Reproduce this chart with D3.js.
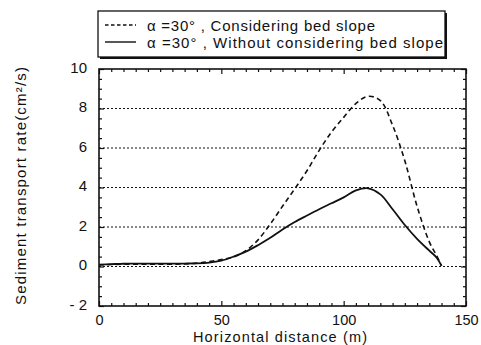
<!DOCTYPE html>
<html>
<head>
<meta charset="utf-8">
<script src="https://cdn.jsdelivr.net/npm/d3@7"></script>
<style>
  html, body { margin: 0; padding: 0; background: #fff; }
  svg { display: block; }
  text { font-family: "Liberation Sans", Arial, sans-serif; fill: #111; }
</style>
</head>
<body>
<svg id="chart" width="481" height="345"></svg>
<script>
// Horizontal distance (m) along the profile
const distance = [0, 5, 10, 15, 20, 25, 30, 35, 40, 45, 50, 55, 60, 65, 70, 75, 80, 85, 90, 95, 100, 105, 110, 115, 120, 125, 130, 135, 138, 140];
// Sediment transport rate (cm²/s), alpha = 30°, considering bed slope
const withSlope = [0.08, 0.1, 0.12, 0.12, 0.12, 0.12, 0.12, 0.13, 0.17, 0.25, 0.35, 0.48, 0.8, 1.35, 2.15, 3.05, 3.93, 4.85, 5.88, 6.8, 7.55, 8.25, 8.62, 8.4, 7.15, 5.35, 3.05, 1.25, 0.55, 0.03];
// Sediment transport rate (cm²/s), alpha = 30°, without considering bed slope
const withoutSlope = [0.1, 0.12, 0.14, 0.15, 0.15, 0.15, 0.15, 0.15, 0.16, 0.2, 0.3, 0.5, 0.75, 1.08, 1.45, 1.87, 2.25, 2.58, 2.9, 3.2, 3.5, 3.85, 3.96, 3.65, 2.9, 2.1, 1.4, 0.8, 0.45, 0.03];

const xTickLabels = [0, 50, 100, 150];
const yTickLabels = [-2, 0, 2, 4, 6, 8, 10];
const gridValues = [0, 2, 4, 6, 8];
const legendLabels = ["α =30° , Considering bed slope", "α =30° , Without considering bed slope"];
const xTitle = "Horizontal distance (m)";
const yTitle = "Sediment transport rate(cm²/s)";

const svg = d3.select("#chart");
const plotLeft = 99, plotRight = 466, plotTop = 69, plotBottom = 306;

const x = d3.scaleLinear().domain([0, 150]).range([plotLeft, plotRight]);
const y = d3.scaleLinear().domain([-2, 10]).range([plotBottom, plotTop]);

// dotted horizontal grid
svg.append("g").selectAll("line").data(gridValues).join("line")
  .attr("x1", plotLeft).attr("x2", plotRight)
  .attr("y1", d => y(d)).attr("y2", d => y(d))
  .attr("stroke", "#111").attr("stroke-width", 1.1)
  .attr("stroke-dasharray", "2,2");

// inward minor/major ticks on all four sides
function styleTicks(g, isMajor, longLen, shortLen, dir) {
  g.select(".domain").remove();
  g.selectAll(".tick line")
    .attr("stroke", "#111").attr("stroke-width", 1.2)
    .each(function(d) {
      const len = isMajor(d) ? longLen : shortLen;
      const el = d3.select(this);
      if (dir === "x") el.attr("y2", len); else el.attr("x2", len);
    });
}
const xMinor = d3.range(0, 151, 5);
const yMinor = d3.range(-2, 10.01, 0.5);
const xMajor = d => d % 50 === 0;
const yMajor = d => Math.abs(d - Math.round(d / 2) * 2) < 1e-6;

svg.append("g").attr("transform", `translate(0,${plotBottom})`)
  .call(d3.axisBottom(x).tickValues(xMinor).tickFormat(""))
  .call(g => styleTicks(g, xMajor, -5, -3, "x"));
svg.append("g").attr("transform", `translate(0,${plotTop})`)
  .call(d3.axisTop(x).tickValues(xMinor).tickFormat(""))
  .call(g => styleTicks(g, xMajor, 5, 3, "x"));
svg.append("g").attr("transform", `translate(${plotLeft},0)`)
  .call(d3.axisLeft(y).tickValues(yMinor).tickFormat(""))
  .call(g => styleTicks(g, yMajor, 5, 3, "y"));
svg.append("g").attr("transform", `translate(${plotRight},0)`)
  .call(d3.axisRight(y).tickValues(yMinor).tickFormat(""))
  .call(g => styleTicks(g, yMajor, -5, -3, "y"));

// tick labels
svg.append("g").attr("transform", `translate(0,${plotBottom})`)
  .call(d3.axisBottom(x).tickValues(xTickLabels).tickSize(0).tickPadding(9).tickFormat(d3.format("d")))
  .call(g => g.select(".domain").remove())
  .call(g => g.selectAll("text").attr("font-size", 14.5).attr("font-family", "'Liberation Sans', Arial, sans-serif").attr("fill", "#111"));
svg.append("g").attr("transform", `translate(${plotLeft},0)`)
  .call(d3.axisLeft(y).tickValues(yTickLabels).tickSize(0).tickPadding(12)
    .tickFormat(d => d < 0 ? "- " + Math.abs(d) : String(d)))
  .call(g => g.select(".domain").remove())
  .call(g => g.selectAll("text").attr("font-size", 15).attr("dy", "0.2em").attr("font-family", "'Liberation Sans', Arial, sans-serif").attr("fill", "#111"));

// plot frame
svg.append("rect")
  .attr("x", plotLeft).attr("y", plotTop)
  .attr("width", plotRight - plotLeft).attr("height", plotBottom - plotTop)
  .attr("fill", "none").attr("stroke", "#111").attr("stroke-width", 1.6);

// curves
const line = d3.line().x(d => x(d[0])).y(d => y(d[1])).curve(d3.curveCatmullRom.alpha(0.5));
svg.append("path")
  .datum(distance.map((d, i) => [d, withSlope[i]]))
  .attr("d", line).attr("fill", "none")
  .attr("stroke", "#111").attr("stroke-width", 1.6)
  .attr("stroke-dasharray", "5,3.5");
svg.append("path")
  .datum(distance.map((d, i) => [d, withoutSlope[i]]))
  .attr("d", line).attr("fill", "none")
  .attr("stroke", "#111").attr("stroke-width", 1.8);

// axis titles
svg.append("text")
  .attr("x", 280).attr("y", 342)
  .attr("text-anchor", "middle").attr("font-size", 14.5)
  .attr("textLength", 174).attr("lengthAdjust", "spacing")
  .text(xTitle);
svg.append("text")
  .attr("transform", "translate(26,186) rotate(-90)")
  .attr("text-anchor", "middle").attr("font-size", 15)
  .attr("textLength", 238).attr("lengthAdjust", "spacing")
  .text(yTitle);

// legend box with drop shadow
const lg = svg.append("g");
lg.append("rect").attr("x", 100).attr("y", 13).attr("width", 347).attr("height", 46).attr("fill", "#111");
lg.append("rect").attr("x", 98).attr("y", 11).attr("width", 347).attr("height", 46)
  .attr("fill", "#fff").attr("stroke", "#111").attr("stroke-width", 1.3);
const rowsY = [25, 42];
const dashes = ["3.5,2.5", null];
const textLen = [228, 296];
legendLabels.forEach((label, i) => {
  lg.append("line")
    .attr("x1", 105).attr("x2", 136).attr("y1", rowsY[i]).attr("y2", rowsY[i])
    .attr("stroke", "#111").attr("stroke-width", 1.4)
    .attr("stroke-dasharray", dashes[i]);
  lg.append("text")
    .attr("x", 147).attr("y", rowsY[i] + 6)
    .attr("font-size", 15)
    .attr("textLength", textLen[i]).attr("lengthAdjust", "spacing")
    .text(label);
});
</script>
</body>
</html>
